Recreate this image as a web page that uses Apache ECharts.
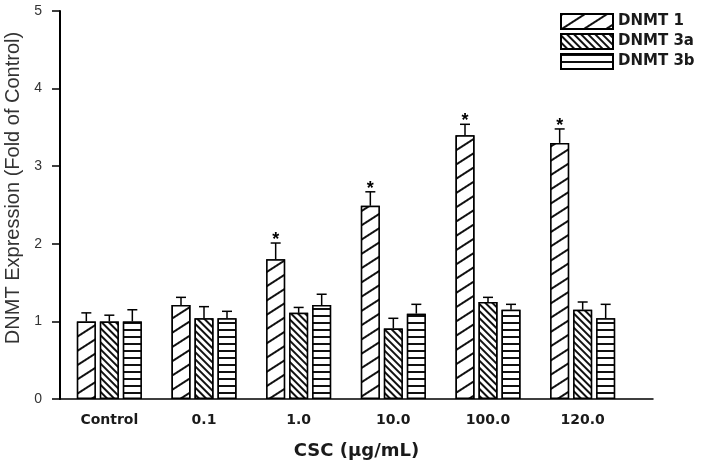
<!DOCTYPE html>
<html><head><meta charset="utf-8">
<script src="https://cdn.jsdelivr.net/npm/echarts@6/dist/echarts.min.js"></script>
<style>html,body{margin:0;padding:0;background:#fff}#c{width:714px;height:465px}</style>
</head><body><div id="c"></div>
<script>
const categories = ['Control', '0.1', '1.0', '10.0', '100.0', '120.0'];
const seriesNames = ['DNMT 1', 'DNMT 3a', 'DNMT 3b'];
const dnmt1 = [1.00, 1.21, 1.80, 2.49, 3.40, 3.30];
const dnmt1Err = [1.11, 1.31, 2.01, 2.67, 3.54, 3.48];
const dnmt3a = [1.00, 1.04, 1.11, 0.91, 1.25, 1.15];
const dnmt3aErr = [1.08, 1.19, 1.18, 1.04, 1.31, 1.25];
const dnmt3b = [1.00, 1.04, 1.21, 1.10, 1.15, 1.04];
const dnmt3bErr = [1.15, 1.13, 1.35, 1.22, 1.22, 1.22];
const significant = [0, 0, 1, 1, 1, 1];
const yMin = 0, yMax = 5, yStep = 1;
const xTitle = 'CSC (μg/mL)';
const yTitle = 'DNMT Expression (Fold of Control)';

const BAR_W = 19, BAR_GAP = 4;
const decals = [
  {symbol: 'rect', symbolSize: 1, dashArrayX: [1, 0], dashArrayY: [1.3, 10], rotation: -Math.PI / 5.5, color: '#111', backgroundColor: '#fff'},
  {symbol: 'rect', symbolSize: 1, dashArrayX: [1, 0], dashArrayY: [1.2, 2.3], rotation: Math.PI / 4, color: '#111', backgroundColor: '#fff'},
  {symbol: 'rect', symbolSize: 1, dashArrayX: [1, 0], dashArrayY: [1.2, 4.2], rotation: 0, color: '#111', backgroundColor: '#fff'}
];
const values = [dnmt1, dnmt3a, dnmt3b];
const errs = [dnmt1Err, dnmt3aErr, dnmt3bErr];

function barSeries(k) {
  return {
    name: seriesNames[k], type: 'bar', xAxisIndex: 1, yAxisIndex: 1,
    data: values[k], barWidth: BAR_W, barGap: (BAR_GAP / BAR_W * 100) + '%',
    itemStyle: {color: '#fff', borderColor: '#000', borderWidth: 1.5, decal: decals[k]},
    emphasis: {disabled: true}, silent: true, z: 2
  };
}
function errSeries(k) {
  const offset = (k - 1) * (BAR_W + BAR_GAP);
  return {
    type: 'custom', xAxisIndex: 1, yAxisIndex: 1, silent: true, z: 3,
    data: values[k].map((v, i) => [i, v, errs[k][i], k === 0 ? significant[i] : 0]),
    renderItem(params, api) {
      const i = api.value(0);
      const base = api.coord([i, api.value(1)]);
      const top = api.coord([i, api.value(2)]);
      const x = base[0] + offset;
      const children = [
        {type: 'line', shape: {x1: x, y1: base[1], x2: x, y2: top[1]}, style: {stroke: '#000', lineWidth: 1.5}},
        {type: 'line', shape: {x1: x - 5, y1: top[1], x2: x + 5, y2: top[1]}, style: {stroke: '#000', lineWidth: 1.5}}
      ];
      if (api.value(3)) {
        children.push({type: 'text', style: {text: '*', x: x, y: top[1] - 3, align: 'center', verticalAlign: 'middle', font: 'bold 18px "Liberation Sans"', fill: '#000'}});
      }
      return {type: 'group', children};
    }
  };
}

const chart = echarts.init(document.getElementById('c'), null, {renderer: 'canvas'});
chart.setOption({
  animation: false,
  backgroundColor: '#fff',
  textStyle: {fontFamily: 'Liberation Sans'},
  legend: {
    data: seriesNames, left: 560, top: 13, orient: 'vertical', padding: 0,
    itemWidth: 52, itemHeight: 15, itemGap: 3, icon: 'rect', selectedMode: false,
    textStyle: {fontFamily: 'DejaVu Sans', fontWeight: 'bold', fontSize: 15, color: '#1a1a1a'}
  },
  grid: [
    {left: 60, right: 61, top: 11, bottom: 66, containLabel: false, outerBoundsMode: 'none'},
    {left: 62, right: 84, top: 11, bottom: 66, containLabel: false, outerBoundsMode: 'none'}
  ],
  xAxis: [
    {type: 'value', gridIndex: 0, min: 0, max: 1, axisLine: {show: true, lineStyle: {color: '#000', width: 1.5}},
     axisTick: {show: false}, axisLabel: {show: false}, splitLine: {show: false},
     name: xTitle, nameLocation: 'middle', nameGap: 43,
     nameTextStyle: {fontFamily: 'DejaVu Sans', fontWeight: 'bold', fontSize: 18, color: '#1a1a1a'}},
    {type: 'category', gridIndex: 1, data: categories, boundaryGap: true,
     axisLine: {show: false}, axisTick: {show: false},
     axisLabel: {margin: 14, fontFamily: 'DejaVu Sans', fontWeight: 'bold', fontSize: 14, color: '#1a1a1a'}}
  ],
  yAxis: [
    {type: 'value', gridIndex: 0, min: yMin, max: yMax, interval: yStep,
     axisLine: {show: true, lineStyle: {color: '#000', width: 2}},
     axisTick: {show: true, length: 8, lineStyle: {color: '#000', width: 1.5}},
     axisLabel: {margin: 18, fontSize: 14, color: '#333'},
     splitLine: {show: false},
     name: yTitle, nameLocation: 'middle', nameGap: 33,
     nameTextStyle: {fontSize: 20, color: '#333', padding: [0, 0, 0, 34]}},
    {type: 'value', gridIndex: 1, min: yMin, max: yMax, interval: yStep, show: false}
  ],
  series: [barSeries(0), barSeries(1), barSeries(2), errSeries(0), errSeries(1), errSeries(2)]
});
</script></body></html>
